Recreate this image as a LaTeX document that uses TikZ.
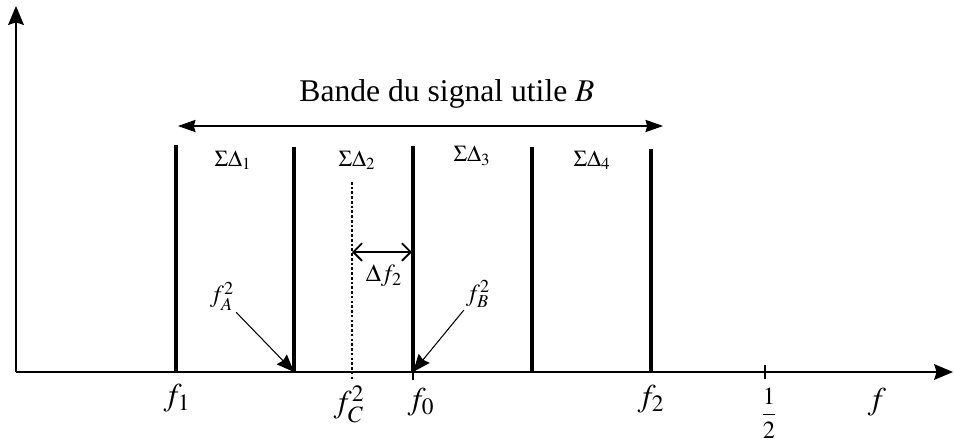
\documentclass[tikz,border=0pt]{standalone}
\usepackage{mathptmx}
\usepackage{fontspec}
\setmainfont{Liberation Serif}
\usetikzlibrary{arrows.meta}

\begin{document}
\begin{tikzpicture}[x=0.02cm,y=-0.02cm,
  axis/.style={line width=0.85pt,-{Stealth[length=10.8pt,width=9pt,inset=1.5pt]}},
  band/.style={line width=2pt},
  span/.style={line width=0.6pt,
               {Stealth[length=10pt,width=7pt,inset=1pt]}-{Stealth[length=10pt,width=7pt,inset=1pt]}},
  ptr/.style={line width=0.6pt,-{Stealth[length=10pt,width=8pt,inset=1pt]}},
  gap/.style={line width=0.6pt,
              {Straight Barb[length=5pt,width=10pt,line width=1.1pt]}-{Straight Barb[length=5pt,width=10pt,line width=1.1pt]}},
  big/.style={font=\fontsize{18}{20}\selectfont,inner sep=0pt},
  mid/.style={font=\fontsize{14}{16}\selectfont,inner sep=1pt},
  small/.style={font=\fontsize{13}{15}\selectfont,inner sep=1pt},
]
\useasboundingbox (0,0) rectangle (954,441);

% Axes
\coordinate (O) at (16,372);
\coordinate (ytop) at (16,6);
\coordinate (xend) at (953,372);
\draw[axis] (O) -- (ytop);
\draw[axis] (O) -- (xend);

% Band limits
\coordinate (b1t) at (176,145); \coordinate (b1b) at (176,372);
\coordinate (b2t) at (294,147); \coordinate (b2b) at (294,372);
\coordinate (b3t) at (413,146); \coordinate (b3b) at (413,372);
\coordinate (b4t) at (532,147); \coordinate (b4b) at (532,372);
\coordinate (b5t) at (651,149); \coordinate (b5b) at (651,372);
\draw[band] (b1t) -- (b1b);
\draw[band] (b2t) -- (b2b);
\draw[band] (b3t) -- (b3b);
\draw[band] (b4t) -- (b4b);
\draw[band] (b5t) -- (b5b);

% Centre of the second band
\coordinate (ct) at (352,182); \coordinate (cb) at (352,380);
\draw[line width=1.6pt,dash pattern=on 1.5pt off 1.2pt] (ct) -- (cb);

% Ticks
\draw[line width=0.6pt] (413,372) -- (413,380);
\draw[line width=0.6pt] (765,365) -- (765,379);

% Useful band
\node[big,anchor=base] (title) at (447,101) {Bande du signal utile $B$};
\coordinate (Bl) at (178,126);
\coordinate (Br) at (663,126);
\draw[span] (Bl) -- (Br);

% Modulators
\node[small] (m1) at (233,160) {$\Sigma\Delta_1$};
\node[small] (m2) at (357,160) {$\Sigma\Delta_2$};
\node[small] (m3) at (472,156) {$\Sigma\Delta_3$};
\node[small] (m4) at (592,160) {$\Sigma\Delta_4$};

% Offset to the band edge
\coordinate (d1) at (352,252);
\coordinate (d2) at (412,252);
\draw[gap] (d1) -- (d2);
\node[mid] (df) at (384,276) {$\Delta f_2$};

% Band edges
\node[mid] (fA) at (222,296) {$f_A^2$};
\node[mid] (fB) at (478,294) {$f_B^2$};
\draw[ptr] (fA.south east) -- (b2b);
\draw[ptr] (fB.south west) -- (b3b);

% Frequencies
\node[big] (f1) at (177,398) {$f_1$};
\node[big] (fC) at (349,404) {$f_C^2$};
\node[big] (f0) at (421,402) {$f_0$};
\node[big] (f2) at (651,399) {$f_2$};
\node[mid] (half) at (769,413) {$\displaystyle\frac{1}{2}$};
\node[big] (f) at (877,402) {$f$};

\end{tikzpicture}
\end{document}
